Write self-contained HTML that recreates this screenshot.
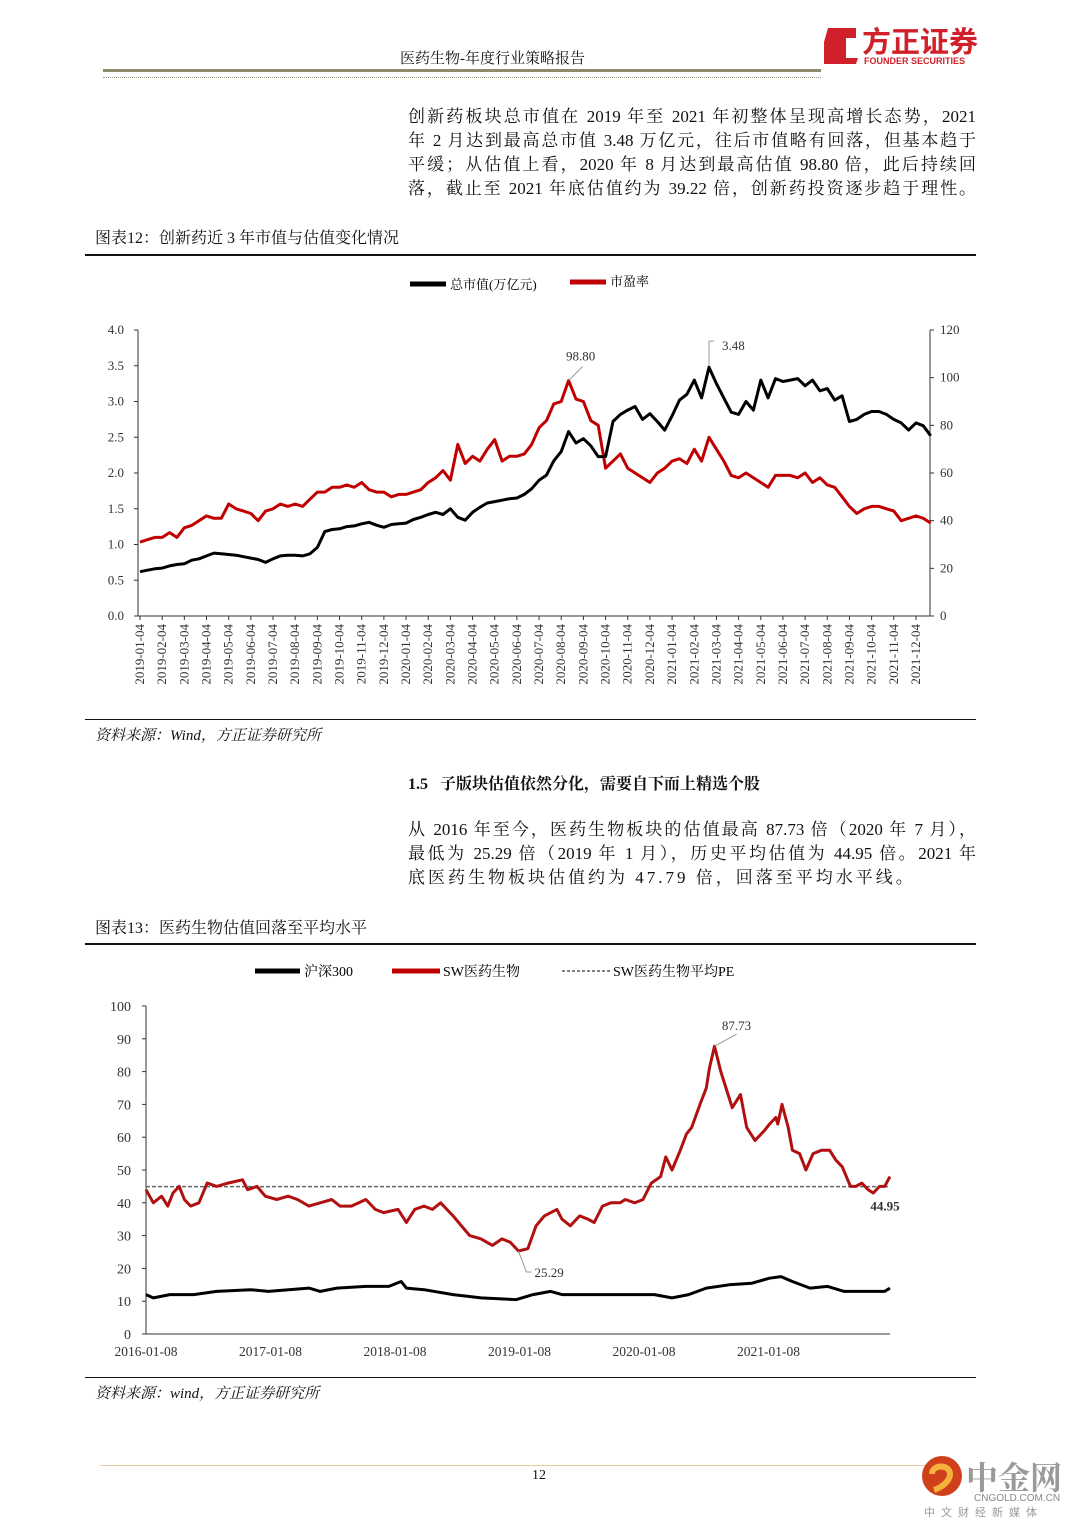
<!DOCTYPE html>
<html><head><meta charset="utf-8">
<style>
body{margin:0;background:#fff;}
#page{position:relative;width:1080px;height:1527px;overflow:hidden;background:#fff;font-family:"Liberation Serif","Noto Serif CJK SC",serif;color:#111;}
.abs{position:absolute;}
.para{position:absolute;left:408px;width:568px;font-size:17px;line-height:24px;}
.para div{text-align:justify;text-align-last:justify;white-space:nowrap;height:24px;}
.para div.last{text-align-last:auto;letter-spacing:3px;}
svg text{font-family:"Liberation Serif","Noto Serif CJK SC",serif;}
</style></head><body>
<div id="page">
<div class="abs" style="left:400px;top:47px;font-size:15px;">医药生物-年度行业策略报告</div>
<div class="abs" style="left:103px;top:69px;width:718px;height:3px;background:#8f8a6a;"></div>
<div class="abs" style="left:103px;top:77px;width:718px;border-top:1px dotted #9a9a80;"></div>
<svg class="abs" style="left:820px;top:24px" width="160" height="44">
<path d="M8,4 L36,4 L36,14 L26,14 L26,34 L38,34 L36,40 L4,40 L4,18 Z" fill="#d0202a"/>
<text x="42" y="28" font-size="29" font-weight="bold" fill="#d0202a" style='font-family:"Noto Sans CJK SC",sans-serif'>方正证券</text>
<text x="44" y="40" font-size="9" font-weight="bold" fill="#d0202a" style='font-family:"Liberation Sans",sans-serif'>FOUNDER SECURITIES</text>
</svg>
<div class="para" style="top:105px;">
<div>创新药板块总市值在 2019 年至 2021 年初整体呈现高增长态势，2021</div>
<div>年 2 月达到最高总市值 3.48 万亿元，往后市值略有回落，但基本趋于</div>
<div>平缓；从估值上看，2020 年 8 月达到最高估值 98.80 倍，此后持续回</div>
<div>落，截止至 2021 年底估值约为 39.22 倍，创新药投资逐步趋于理性。</div>
</div>
<div class="abs" style="left:95px;top:225px;font-size:16px;">图表12：创新药近 3 年市值与估值变化情况</div>
<div class="abs" style="left:85px;top:254px;width:891px;height:2px;background:#111;"></div>
<svg class="abs" id="c1" style="left:0;top:256px" width="1080" height="464"></svg>
<div class="abs" style="left:85px;top:719px;width:891px;height:1px;background:#111;"></div>
<div class="abs" style="left:95px;top:724px;font-size:15px;font-style:italic;">资料来源：Wind，方正证券研究所</div>
<div class="abs" style="left:408px;top:771px;font-size:16px;font-weight:bold;">1.5&nbsp;&nbsp;&nbsp;子版块估值依然分化，需要自下而上精选个股</div>
<div class="para" style="top:818px;">
<div>从 2016 年至今，医药生物板块的估值最高 87.73 倍（2020 年 7 月），</div>
<div>最低为 25.29 倍（2019 年 1 月），历史平均估值为 44.95 倍。2021 年</div>
<div class="last">底医药生物板块估值约为 47.79 倍，回落至平均水平线。</div>
</div>
<div class="abs" style="left:95px;top:915px;font-size:16px;">图表13：医药生物估值回落至平均水平</div>
<div class="abs" style="left:85px;top:943px;width:891px;height:2px;background:#111;"></div>
<svg class="abs" id="c2" style="left:0;top:945px" width="1080" height="432"></svg>
<div class="abs" style="left:85px;top:1377px;width:891px;height:1px;background:#111;"></div>
<div class="abs" style="left:95px;top:1382px;font-size:15px;font-style:italic;">资料来源：wind，方正证券研究所</div>
<div class="abs" style="left:100px;top:1465px;width:830px;height:1px;background:#e8c9a0;"></div>
<div class="abs" style="left:532px;top:1468px;font-size:14px;">12</div>
<svg class="abs" style="left:918px;top:1452px" width="160" height="70">
<circle cx="24" cy="24" r="20" fill="#d0401a"/>
<path d="M14,22 C14,12 32,12 32,22 C32,30 22,36 16,38" stroke="#f4b23a" stroke-width="6" fill="none"/>
<text x="48" y="37" font-size="32" font-weight="bold" fill="#9a9a9a">中金网</text>
<text x="56" y="49" font-size="10" fill="#888" style='font-family:"Liberation Sans",sans-serif'>CNGOLD.COM.CN</text>
<text x="6" y="64" font-size="11" fill="#999" letter-spacing="6" style='font-family:"Noto Sans CJK SC",sans-serif'>中文财经新媒体</text>
</svg>
</div>
<script>
// ---------- Chart 12 data ----------
const c1Months = ["2019-01-04","2019-02-04","2019-03-04","2019-04-04","2019-05-04","2019-06-04","2019-07-04","2019-08-04","2019-09-04","2019-10-04","2019-11-04","2019-12-04","2020-01-04","2020-02-04","2020-03-04","2020-04-04","2020-05-04","2020-06-04","2020-07-04","2020-08-04","2020-09-04","2020-10-04","2020-11-04","2020-12-04","2021-01-04","2021-02-04","2021-03-04","2021-04-04","2021-05-04","2021-06-04","2021-07-04","2021-08-04","2021-09-04","2021-10-04","2021-11-04","2021-12-04"];
// three observations per month (approx. 4th, 14th, 24th)
const c1MarketCap = [0.62,0.64,0.66, 0.67,0.70,0.72, 0.73,0.78,0.80, 0.84,0.88,0.87, 0.86,0.85,0.83, 0.81,0.79,0.75, 0.80,0.84,0.85, 0.85,0.84,0.87, 0.96,1.18,1.21, 1.22,1.25,1.26, 1.29,1.31,1.27, 1.24,1.28,1.29,
 1.30,1.35,1.38, 1.42,1.45,1.42, 1.50,1.38,1.34, 1.45,1.52,1.58, 1.60,1.62,1.64, 1.65,1.70,1.78, 1.90,1.97,2.17, 2.30,2.58,2.42, 2.48,2.38,2.23, 2.23,2.72,2.82, 2.88,2.93,2.75, 2.83,2.72,2.60,
 2.80,3.02,3.10, 3.30,3.05,3.48, 3.25,3.05,2.85, 2.82,3.00,2.88, 3.30,3.05,3.32, 3.28,3.30,3.32, 3.22,3.30,3.15, 3.18,3.02,3.08, 2.72,2.75,2.82, 2.86,2.86,2.82, 2.75,2.70,2.60, 2.70,2.66,2.52];
const c1PE = [31,32,33, 33,35,33, 37,38,40, 42,41,41, 47,45,44, 43,40,44, 45,47,46, 47,46,49, 52,52,54, 54,55,54, 56,53,52, 52,50,51,
 51,52,53, 56,58,61, 57,72,64, 67,65,70, 74,65,67, 67,68,72, 79,82,89, 90,98.8,91, 90,82,80, 62,65,68, 62,60,58, 56,60,62,
 65,66,64, 70,65,75, 70,65,59, 58,60,58, 56,54,59, 59,59,58, 60,56,58, 55,54,50, 46,43,45, 46,46,45, 44,40,41, 42,41,39];
const c1LeftTicks = ["0.0","0.5","1.0","1.5","2.0","2.5","3.0","3.5","4.0"];
const c1RightTicks = ["0","20","40","60","80","100","120"];
const c1LegendLabels = ["总市值(万亿元)","市盈率"];

// ---------- Chart 13 data ----------
const c2YearLabels = ["2016-01-08","2017-01-08","2018-01-08","2019-01-08","2020-01-08","2021-01-08"];
const c2SWMonths = [0,0.7,1.5,2.1,2.6,3.2,3.7,4.3,5.1,5.9,6.8,7.9,9.3,9.8,10.7,11.5,12.6,13.7,14.6,15.7,16.8,17.9,18.7,19.8,21.2,22.1,22.9,24.3,25.1,25.9,26.8,27.6,28.4,29.6,30.4,31.2,32.3,33.4,34.3,35.1,35.9,36.8,37.6,38.4,39.6,40.1,40.9,41.8,42.6,43.2,44.0,44.8,45.7,46.2,47.1,47.9,48.7,49.6,50.1,50.7,51.5,52.1,52.6,53.4,54.0,54.3,54.8,55.4,55.9,56.5,57.3,57.9,58.7,59.6,60.1,60.7,60.9,61.3,61.9,62.3,63.0,63.6,64.3,65.1,65.9,66.5,67.1,67.9,68.4,69.0,69.6,70.1,70.7,71.2,71.7];
const c2SWPE = [44,40,42,39,43,45,41,39,40,46,45,46,47,44,45,42,41,42,41,39,40,41,39,39,41,38,37,38,34,38,39,38,40,36,33,30,29,27,29,28,25.29,26,33,36,38,35,33,36,35,34,39,40,40,41,40,41,46,48,54,50,56,61,63,70,75,81,87.73,80,75,69,73,63,59,62,64,66,64,70,63,56,55,50,55,56,56,53,51,45,45,46,44,43,45,45,48];
const c2HSMonths = [0,0.7,2.3,4.6,6.8,10.1,11.8,15.7,16.8,18.4,21.2,23.4,24.6,25.1,26.8,29.6,32.3,35.7,37.3,39.0,40.1,43.4,46.8,49.0,50.7,52.3,54.0,56.2,58.4,60.1,61.2,62.3,64.0,65.7,67.3,70.1,71.2,71.7];
const c2HS300 = [12,11,12,12,13,13.5,13,14,13,14,14.5,14.5,16,14,13.5,12,11,10.5,12,13,12,12,12,12,11,12,14,15,15.5,17,17.5,16,14,14.5,13,13,13,14];
const c2AvgPE = [44.95];
const c2YTicks = ["0","10","20","30","40","50","60","70","80","90","100"];
const c2LegendLabels = ["沪深300","SW医药生物","SW医药生物平均PE"];

const NS="http://www.w3.org/2000/svg";
function mk(svg,tag,attrs,txt){const e=document.createElementNS(NS,tag);for(const k in attrs)e.setAttribute(k,attrs[k]);if(txt!==undefined)e.textContent=txt;svg.appendChild(e);return e;}

// ----- chart 12 -----
(function(){
const svg=document.getElementById('c1');
const X0=140, PM=22.17, L=138, R=930, YB=360, YT=74;
const xAt=i=>X0+(i/3)*PM;
const yL=v=>YB-(v/4)*(YB-YT);
const yR=v=>YB-(v/120)*(YB-YT);
let lg=mk(svg,'line',{x1:410,y1:28,x2:446,y2:28,stroke:'#000','stroke-width':5});

let lt=mk(svg,'text',{x:450,y:33,'font-size':13},c1LegendLabels[0]);

lg=mk(svg,'line',{x1:570,y1:26,x2:606,y2:26,stroke:'#c00000','stroke-width':5});

lt=mk(svg,'text',{x:610,y:30,'font-size':13},c1LegendLabels[1]);

let a=mk(svg,'line',{x1:L,y1:YT,x2:L,y2:YB,stroke:'#333','stroke-width':1});

a=mk(svg,'line',{x1:R,y1:YT,x2:R,y2:YB,stroke:'#333','stroke-width':1});

a=mk(svg,'line',{x1:L,y1:YB,x2:R,y2:YB,stroke:'#333','stroke-width':1});

c1LeftTicks.forEach(t=>{const y=yL(parseFloat(t));
 mk(svg,'line',{x1:L-4,y1:y,x2:L,y2:y,stroke:'#333'});
 const e=mk(svg,'text',{x:124,y:y+4,'font-size':13,'text-anchor':'end',fill:'#333'},t);
 });
c1RightTicks.forEach(t=>{const y=yR(parseFloat(t));
 mk(svg,'line',{x1:R,y1:y,x2:R+4,y2:y,stroke:'#333'});
 const e=mk(svg,'text',{x:940,y:y+4,'font-size':13,fill:'#333'},t);
 });
c1Months.forEach((m,k)=>{const x=X0+k*PM;
 mk(svg,'line',{x1:x,y1:YB,x2:x,y2:YB+4,stroke:'#333'});
 const e=mk(svg,'text',{x:0,y:0,'font-size':13,'text-anchor':'end',fill:'#333',transform:`translate(${x+4},${YB+8}) rotate(-90)`},m);
 });
let d=c1PE.map((v,i)=>(i?'L':'M')+xAt(i).toFixed(1)+','+yR(v).toFixed(1)).join(' ');
let p=mk(svg,'path',{d:d,fill:'none',stroke:'#c00000','stroke-width':3,'stroke-linejoin':'round'});

d=c1MarketCap.map((v,i)=>(i?'L':'M')+xAt(i).toFixed(1)+','+yL(v).toFixed(1)).join(' ');
p=mk(svg,'path',{d:d,fill:'none',stroke:'#000','stroke-width':3,'stroke-linejoin':'round'});

const iPE=c1PE.indexOf(Math.max(...c1PE)), iMC=c1MarketCap.indexOf(Math.max(...c1MarketCap));
let px=xAt(iPE),py=yR(c1PE[iPE]);
mk(svg,'line',{x1:px,y1:py,x2:px+14,y2:py-14,stroke:'#999'});
let at=mk(svg,'text',{x:px+12,y:py-20,'font-size':13,'text-anchor':'middle',fill:'#333'},c1PE[iPE].toFixed(2));

px=xAt(iMC);py=yL(c1MarketCap[iMC]);
mk(svg,'polyline',{points:`${px},${py-2} ${px},${py-26} ${px+5},${py-26}`,fill:'none',stroke:'#999'});
at=mk(svg,'text',{x:px+13,y:py-17,'font-size':13,fill:'#333'},c1MarketCap[iMC].toFixed(2));

})();

// ----- chart 13 -----
(function(){
const svg=document.getElementById('c2');
const L=146, PM=10.375, YB=389, YT=61, R=890;
const x=t=>L+t*PM, y=v=>YB-(v/100)*(YB-YT);
let e=mk(svg,'line',{x1:255,y1:26,x2:300,y2:26,stroke:'#000','stroke-width':5});

e=mk(svg,'text',{x:304,y:31,'font-size':14},c2LegendLabels[0]);

e=mk(svg,'line',{x1:392,y1:26,x2:440,y2:26,stroke:'#c00000','stroke-width':5});

e=mk(svg,'text',{x:443,y:31,'font-size':14},c2LegendLabels[1]);

e=mk(svg,'line',{x1:562,y1:26,x2:610,y2:26,stroke:'#555','stroke-width':1.5,'stroke-dasharray':'3,2'});

e=mk(svg,'text',{x:613,y:31,'font-size':14},c2LegendLabels[2]);

e=mk(svg,'line',{x1:L,y1:YT,x2:L,y2:YB,stroke:'#333'});

e=mk(svg,'line',{x1:L,y1:YB,x2:R,y2:YB,stroke:'#333'});

c2YTicks.forEach(t=>{const yy=y(parseFloat(t));
 mk(svg,'line',{x1:L-4,y1:yy,x2:L,y2:yy,stroke:'#333'});
 const q=mk(svg,'text',{x:131,y:yy+5,'font-size':14,'text-anchor':'end',fill:'#333'},t);
 });
c2YearLabels.forEach((s,k)=>{const xx=x(k*12);
 const q=mk(svg,'text',{x:xx,y:YB+22,'font-size':13.5,'text-anchor':'middle',fill:'#333'},s);
 });
e=mk(svg,'line',{x1:L,y1:y(c2AvgPE[0]),x2:R,y2:y(c2AvgPE[0]),stroke:'#666','stroke-width':1.5,'stroke-dasharray':'4,2'});

let d=c2SWPE.map((v,i)=>(i?'L':'M')+x(c2SWMonths[i]).toFixed(1)+','+y(v).toFixed(1)).join(' ');
e=mk(svg,'path',{d:d,fill:'none',stroke:'#b01010','stroke-width':3,'stroke-linejoin':'round'});

d=c2HS300.map((v,i)=>(i?'L':'M')+x(c2HSMonths[i]).toFixed(1)+','+y(v).toFixed(1)).join(' ');
e=mk(svg,'path',{d:d,fill:'none',stroke:'#000','stroke-width':3,'stroke-linejoin':'round'});

const iMax=c2SWPE.indexOf(Math.max(...c2SWPE)), iMin=c2SWPE.indexOf(Math.min(...c2SWPE));
let px=x(c2SWMonths[iMax]),py=y(c2SWPE[iMax]);
mk(svg,'line',{x1:px,y1:py,x2:px+22,y2:py-12,stroke:'#999'});
e=mk(svg,'text',{x:px+22,y:py-16,'font-size':13,'text-anchor':'middle',fill:'#333'},c2SWPE[iMax].toFixed(2));

px=x(c2SWMonths[iMin]);py=y(c2SWPE[iMin]);
mk(svg,'polyline',{points:`${px},${py} ${px+8},${py+21} ${px+13},${py+21}`,fill:'none',stroke:'#999'});
e=mk(svg,'text',{x:px+16,y:py+26,'font-size':13,fill:'#333'},c2SWPE[iMin].toFixed(2));

e=mk(svg,'text',{x:R-5,y:y(c2AvgPE[0])+24,'font-size':13,'font-weight':'bold','text-anchor':'middle',fill:'#333'},c2AvgPE[0].toFixed(2));

})();
</script>
</body></html>
